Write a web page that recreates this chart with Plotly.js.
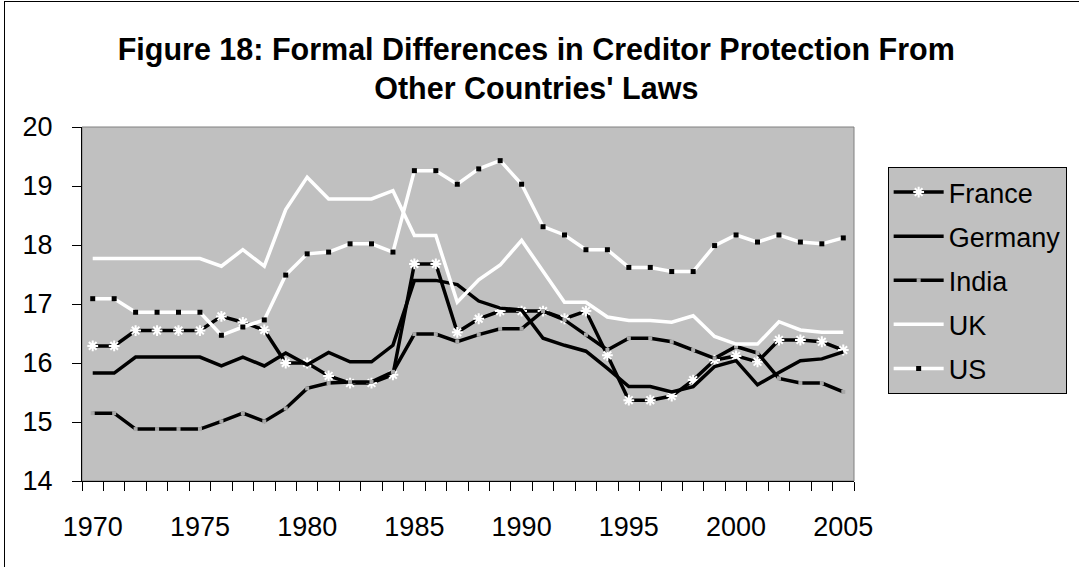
<!DOCTYPE html>
<html>
<head>
<meta charset="utf-8">
<script src="https://cdn.plot.ly/plotly-3.0.1.min.js"></script>
<style>
  html, body { margin: 0; padding: 0; background: #ffffff; }
  #chart { width: 1079px; height: 567px; position: relative; }
  #frame { position: absolute; left: 4px; top: 1px; width: 1200px; height: 700px;
           border-left: 1px solid #000; border-top: 1px solid #000; pointer-events: none; }
</style>
</head>
<body>
<div id="chart"></div>
<div id="frame"></div>
<script>
const years = [1970,1971,1972,1973,1974,1975,1976,1977,1978,1979,
               1980,1981,1982,1983,1984,1985,1986,1987,1988,1989,
               1990,1991,1992,1993,1994,1995,1996,1997,1998,1999,
               2000,2001,2002,2003,2004,2005];

const france  = [16.29,16.29,16.55,16.55,16.55,16.55,16.79,16.69,16.56,16.00,
                 16.00,15.78,15.66,15.66,15.80,17.68,17.68,16.52,16.75,16.88,
                 16.88,16.88,16.75,16.88,16.13,15.37,15.37,15.44,15.71,16.05,
                 16.12,16.02,16.39,16.39,16.36,16.22];
const germany = [15.83,15.83,16.10,16.10,16.10,16.10,15.95,16.10,15.95,16.17,
                 15.97,16.18,16.02,16.02,16.30,17.40,17.40,17.33,17.05,16.93,
                 16.90,16.42,16.30,16.20,15.91,15.60,15.60,15.51,15.60,15.94,
                 16.04,15.63,15.84,16.04,16.07,16.19];
const india   = [15.15,15.15,14.88,14.88,14.88,14.88,15.01,15.15,15.01,15.23,
                 15.57,15.66,15.68,15.68,15.85,16.49,16.49,16.36,16.48,16.58,
                 16.58,16.88,16.73,16.48,16.22,16.42,16.42,16.36,16.22,16.08,
                 16.28,16.17,15.74,15.66,15.66,15.51];
const uk      = [17.77,17.77,17.77,17.77,17.77,17.77,17.64,17.92,17.64,18.60,
                 19.15,18.78,18.78,18.78,18.92,18.16,18.16,17.03,17.41,17.66,
                 18.08,17.56,17.03,17.03,16.78,16.72,16.72,16.69,16.80,16.45,
                 16.32,16.32,16.70,16.56,16.52,16.52];
const us      = [17.09,17.09,16.86,16.86,16.86,16.86,16.47,16.61,16.73,17.49,
                 17.85,17.88,18.02,18.02,17.88,19.26,19.26,19.03,19.29,19.43,
                 19.03,18.31,18.17,17.92,17.92,17.62,17.62,17.55,17.55,17.99,
                 18.17,18.05,18.17,18.05,18.02,18.12];

const seriesNames = ['France','Germany','India','UK','US'];
const xCats = years.map(String);
const tickText = years.map(y => (y % 5 === 0 ? String(y) : ''));

const FONT = 'Liberation Sans, Arial, Helvetica, sans-serif';

const traces = [
  { name: seriesNames[0], y: france, mode: 'lines+markers',
    line: { color: '#000000', width: 3.5 },
    marker: { symbol: 'asterisk-open', size: 9, color: '#ffffff', line: { color: '#ffffff', width: 2 } } },
  { name: seriesNames[1], y: germany, mode: 'lines',
    line: { color: '#000000', width: 3.5 } },
  { name: seriesNames[2], y: india, mode: 'lines+markers',
    line: { color: '#000000', width: 3.5 },
    marker: { symbol: 'square', size: 4, color: '#a8a8a8', line: { width: 0 } } },
  { name: seriesNames[3], y: uk, mode: 'lines',
    line: { color: '#ffffff', width: 3.5 } },
  { name: seriesNames[4], y: us, mode: 'lines+markers',
    line: { color: '#ffffff', width: 3.5 },
    marker: { symbol: 'square', size: 5, color: '#000000', line: { width: 0 } } }
].map((t, i) => Object.assign({ type: 'scatter', x: xCats, legendgroup: 'g' + i, hoverinfo: 'skip' }, t));

const layout = {
  width: 1079, height: 567,
  margin: { l: 82, r: 217, t: 127, b: 86, pad: 0 },
  paper_bgcolor: '#ffffff',
  plot_bgcolor: '#c0c0c0',
  font: { family: FONT, size: 27, color: '#000000' },
  showlegend: true,
  title: {
    text: 'Figure 18: Formal Differences in Creditor Protection From<br>Other Countries\' Laws',
    font: { family: FONT, size: 30.5, color: '#000000', weight: 'bold' },
    xref: 'container', x: 0.497, xanchor: 'center',
    yref: 'container', y: 0.895, yanchor: 'top'
  },
  xaxis: {
    type: 'category',
    tickvals: xCats, ticktext: tickText,
    tickson: 'boundaries', tickangle: 0,
    ticks: 'outside', ticklen: 9, tickwidth: 1, tickcolor: '#000000',
    ticklabelstandoff: 22,
    showline: true, linecolor: '#000000', linewidth: 1,
    showgrid: false, zeroline: false,
    tickfont: { family: FONT, size: 27, color: '#000000' },
    range: [-0.5, 35.5], fixedrange: true
  },
  yaxis: {
    range: [14, 20], dtick: 1, tick0: 14,
    ticks: 'outside', ticklen: 9, tickwidth: 1, tickcolor: '#000000',
    ticklabelstandoff: 14,
    showline: true, linecolor: '#000000', linewidth: 1,
    showgrid: false, zeroline: false,
    tickfont: { family: FONT, size: 27, color: '#000000' },
    fixedrange: true
  },
  shapes: [
    { type: 'rect', xref: 'paper', yref: 'paper', x0: 0, x1: 1, y0: 0, y1: 1,
      line: { color: '#808080', width: 1 }, fillcolor: 'rgba(0,0,0,0)', layer: 'below' }
  ],
  legend: {
    x: 1.0436, xanchor: 'left', y: 0.887, yanchor: 'top',
    bgcolor: '#c0c0c0', bordercolor: '#000000', borderwidth: 1,
    font: { family: FONT, size: 27, color: '#000000' },
    itemwidth: 50, tracegroupgap: 6,
    traceorder: 'grouped'
  }
};

Plotly.newPlot('chart', traces, layout, { displayModeBar: false, staticPlot: true });
</script>
</body>
</html>
